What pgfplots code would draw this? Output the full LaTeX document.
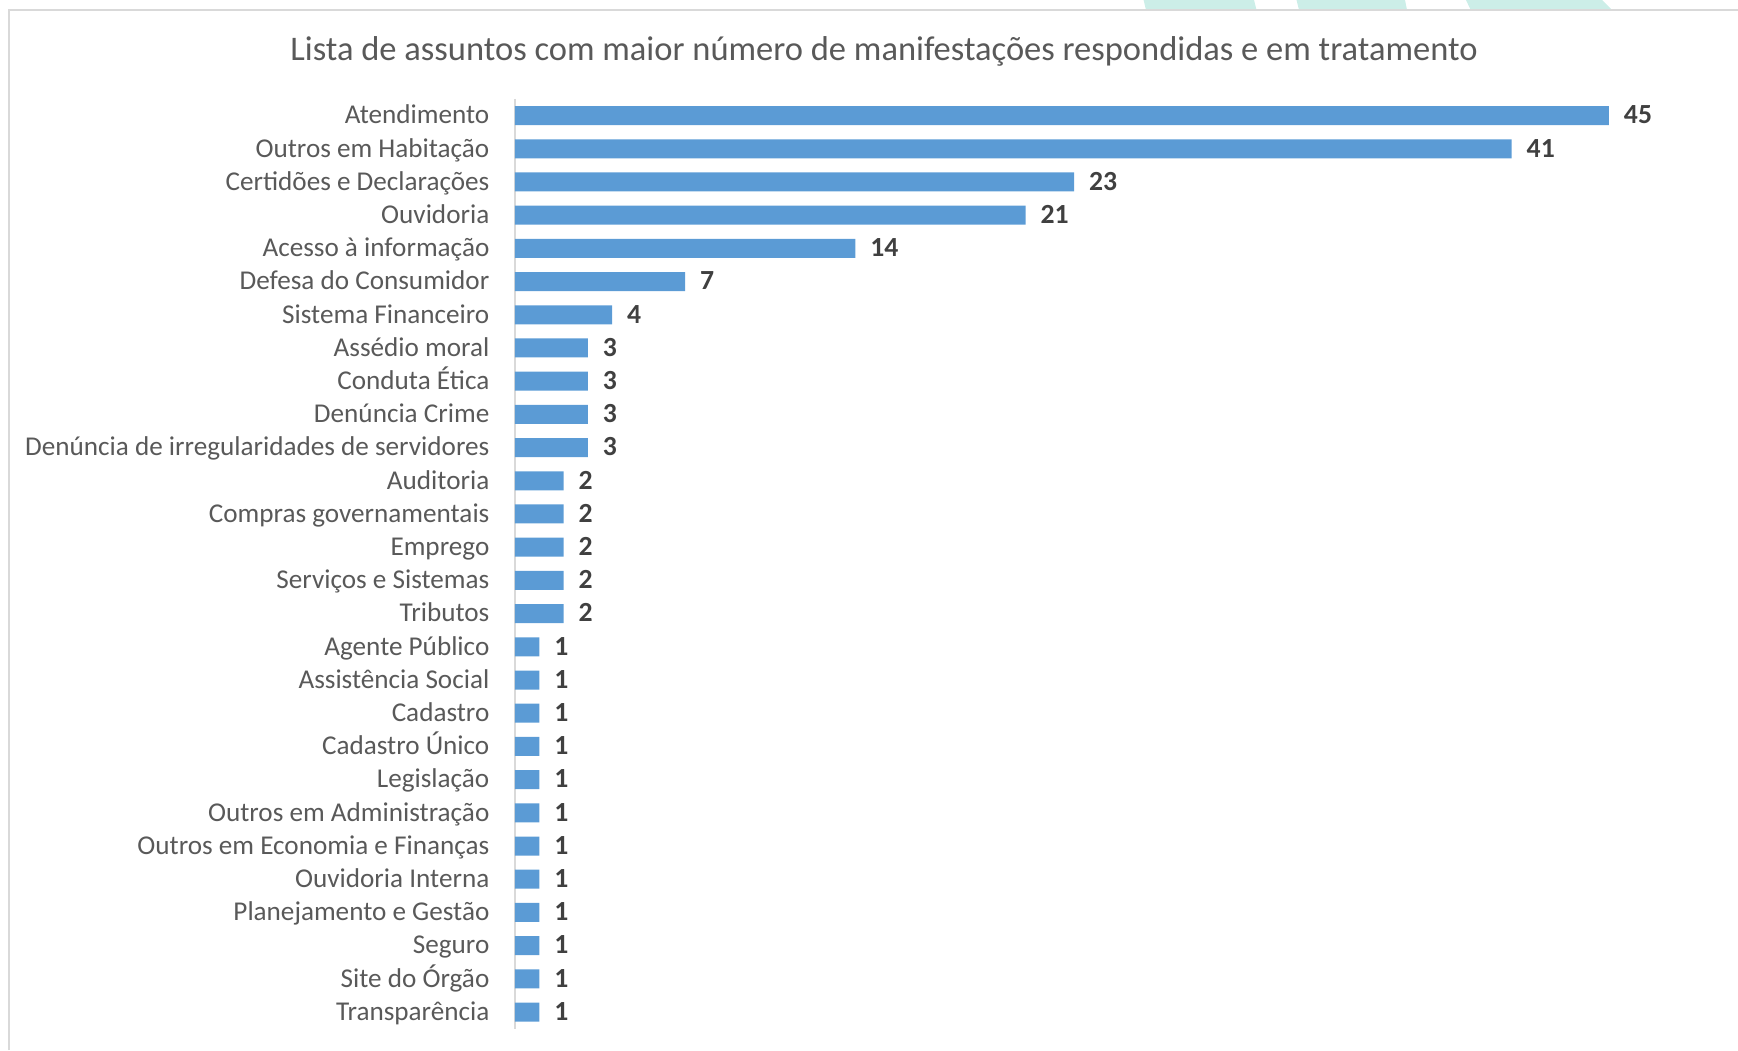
\documentclass[border=0pt]{standalone}
\usepackage{fontspec}
\setmainfont{Carlito}
\usepackage{pgfplots}
\pgfplotsset{compat=1.18}
\definecolor{barblue}{HTML}{5B9BD5}
\definecolor{labgray}{HTML}{595959}
\definecolor{valgray}{HTML}{404040}
\definecolor{linegray}{HTML}{D9D9D9}
\definecolor{decoteal}{HTML}{CCEEE8}
\begin{document}
\begin{tikzpicture}[x=0.3pt,y=0.3pt]
\path[use as bounding box] (0,0) rectangle (1738,1050);
\fill[decoteal] (1143.6,1050) -- (1254,1050) -- (1256.5,1040) -- (1146,1040) -- cycle;
\fill[decoteal] (1296.5,1050) -- (1405,1050) -- (1407,1040) -- (1299,1040) -- cycle;
\fill[decoteal] (1466,1050) -- (1602,1050) -- (1612,1040) -- (1470.7,1040) -- cycle;
\draw[linegray, line width=0.6pt] (9,0) -- (9,1040) -- (1738,1040);
\node[labgray, font=\fontsize{10.35}{12}\selectfont, inner sep=0pt] at (884,998.5) {Lista de assuntos com maior número de manifestações respondidas e em tratamento};
\begin{axis}[
  at={(154.5pt,6.42pt)}, anchor=south west,
  scale only axis, width=328.2pt, height=278.9pt,
  xmin=0, xmax=45, ymin=-0.5, ymax=27.5, y dir=reverse,
  xbar, bar width=5.7pt, bar shift=0pt,
  hide x axis, axis y line*=left,
  y axis line style={draw=linegray, line width=0.6pt, -},
  ytick={0,...,27},
  yticklabels={Atendimento,Outros em Habitação,Certidões e Declarações,Ouvidoria,Acesso à informação,Defesa do Consumidor,Sistema Financeiro,Assédio moral,Conduta Ética,Denúncia Crime,Denúncia de irregularidades de servidores,Auditoria,Compras governamentais,Emprego,Serviços e Sistemas,Tributos,Agente Público,Assistência Social,Cadastro,Cadastro Único,Legislação,Outros em Administração,Outros em Economia e Finanças,Ouvidoria Interna,Planejamento e Gestão,Seguro,Site do Órgão,Transparência},
  major tick length=0pt,
  yticklabel style={text=labgray, font=\fontsize{8.15}{9}\selectfont, inner sep=0pt, xshift=-7.5pt, anchor=east, text height=0.65em, text depth=0.15em},
  /pgf/number format/assume math mode=true,
  nodes near coords,
  nodes near coords style={text=valgray, font=\fontsize{8.3}{9}\selectfont\bfseries, anchor=west, inner sep=0pt, xshift=4.3pt, text height=0.65em, text depth=0.15em},
  clip=false]
\addplot[fill=barblue, draw=none] coordinates {
(45,0) (41,1) (23,2) (21,3) (14,4) (7,5) (4,6) (3,7) (3,8) (3,9) (3,10)
(2,11) (2,12) (2,13) (2,14) (2,15)
(1,16) (1,17) (1,18) (1,19) (1,20) (1,21) (1,22) (1,23) (1,24) (1,25) (1,26) (1,27)};
\end{axis}
\end{tikzpicture}
\end{document}
